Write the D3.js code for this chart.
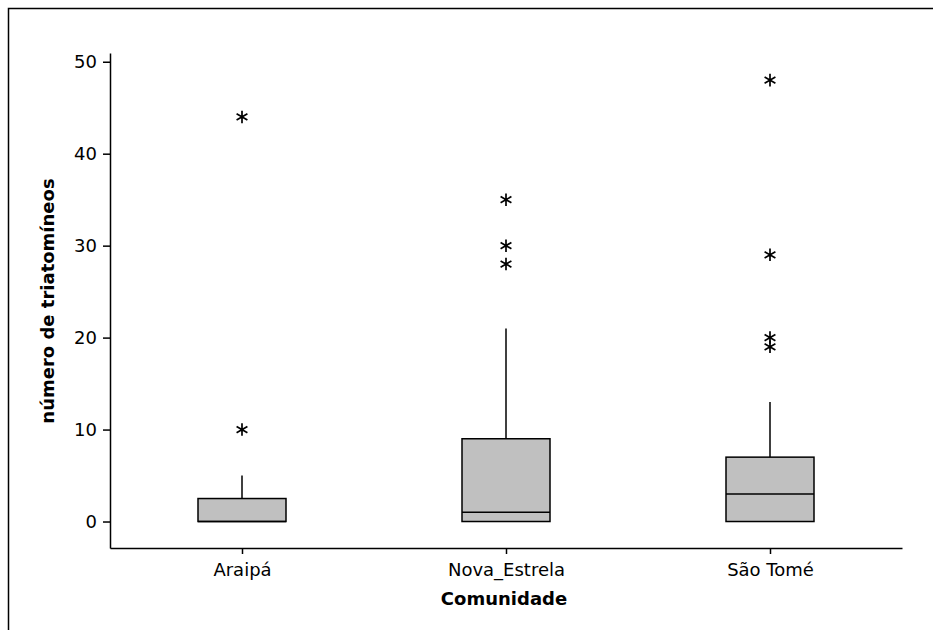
<!DOCTYPE html>
<html>
<head>
<meta charset="utf-8">
<script src="https://cdn.jsdelivr.net/npm/d3@7"></script>
<style>
  body { margin: 0; background: #fff; }
  text { font-family: "DejaVu Sans", Verdana, sans-serif; }
</style>
</head>
<body>
<div id="chart"></div>
<script>
// box plot values
const categories = ["Araipá", "Nova_Estrela", "São Tomé"];
const q1 = [0, 0, 0];
const medians = [0, 1, 3];
const q3 = [2.5, 9, 7];
const whiskerLow = [0, 0, 0];
const whiskerHigh = [5, 21, 13];
const outliers = [[10, 44], [28, 30, 35], [19, 20, 29, 48]];
const yTicks = [0, 10, 20, 30, 40, 50];

const width = 933, height = 630;

const svg = d3.select("#chart").append("svg")
  .attr("width", width)
  .attr("height", height);

svg.append("rect")
  .attr("width", width).attr("height", height)
  .attr("fill", "#fff");

// outer frame (right and bottom edges fall outside the picture)
svg.append("rect")
  .attr("x", 8.5).attr("y", 8.5)
  .attr("width", 960).attr("height", 660)
  .attr("fill", "none")
  .attr("stroke", "#000")
  .attr("stroke-width", 1.5);

const x = d3.scalePoint().domain(categories).range([110, 902]).padding(0.5);
const y = d3.scaleLinear().domain([-2.88, 50.95]).range([548, 53]);
const boxW = 88;

const g = svg.append("g");

// boxes
const boxes = g.selectAll(".box")
  .data(categories)
  .enter().append("g")
  .attr("class", "box");

boxes.append("line")
  .attr("x1", d => x(d)).attr("x2", d => x(d))
  .attr("y1", (d, i) => y(q3[i]))
  .attr("y2", (d, i) => y(whiskerHigh[i]))
  .attr("stroke", "#000").attr("stroke-width", 1.5);

boxes.append("line")
  .attr("x1", d => x(d)).attr("x2", d => x(d))
  .attr("y1", (d, i) => y(q1[i]))
  .attr("y2", (d, i) => y(whiskerLow[i]))
  .attr("stroke", "#000").attr("stroke-width", 1.5);

boxes.append("rect")
  .attr("x", d => x(d) - boxW / 2)
  .attr("width", boxW)
  .attr("y", (d, i) => y(q3[i]))
  .attr("height", (d, i) => y(q1[i]) - y(q3[i]))
  .attr("fill", "#c0c0c0")
  .attr("stroke", "#000").attr("stroke-width", 1.5);

boxes.append("line")
  .attr("x1", d => x(d) - boxW / 2).attr("x2", d => x(d) + boxW / 2)
  .attr("y1", (d, i) => y(medians[i]))
  .attr("y2", (d, i) => y(medians[i]))
  .attr("stroke", "#000").attr("stroke-width", 1.5);

// outliers as asterisks
const outPts = [];
categories.forEach((c, i) => outliers[i].forEach(v => outPts.push({ c: c, v: v })));

const star = d3.symbol().type(d3.symbolAsterisk).size(110);
g.selectAll(".outlier")
  .data(outPts)
  .enter().append("path")
  .attr("class", "outlier")
  .attr("d", star)
  .attr("transform", d => "translate(" + x(d.c) + "," + y(d.v) + ")")
  .attr("fill", "none")
  .attr("stroke", "#000")
  .attr("stroke-width", 1.7);

// axes
const yAxis = g.append("g")
  .attr("transform", "translate(110,0)")
  .call(d3.axisLeft(y).tickValues(yTicks).tickSize(7).tickSizeOuter(0).tickPadding(6));

const xAxis = g.append("g")
  .attr("transform", "translate(0,548)")
  .call(d3.axisBottom(x).tickSize(6).tickSizeOuter(0).tickPadding(9));

[yAxis, xAxis].forEach(a => {
  a.select(".domain").attr("stroke-width", 1.5);
  a.selectAll(".tick line").attr("stroke-width", 1.5);
  a.selectAll("text")
    .attr("font-family", "DejaVu Sans, Verdana, sans-serif")
    .attr("font-size", 18)
    .attr("fill", "#000");
});

// axis titles
svg.append("text")
  .attr("x", 504).attr("y", 605)
  .attr("text-anchor", "middle")
  .attr("font-size", 18)
  .attr("font-weight", "bold")
  .text("Comunidade");

svg.append("text")
  .attr("transform", "translate(54,301) rotate(-90)")
  .attr("text-anchor", "middle")
  .attr("font-size", 18)
  .attr("font-weight", "bold")
  .text("número de triatomíneos");
</script>
</body>
</html>
